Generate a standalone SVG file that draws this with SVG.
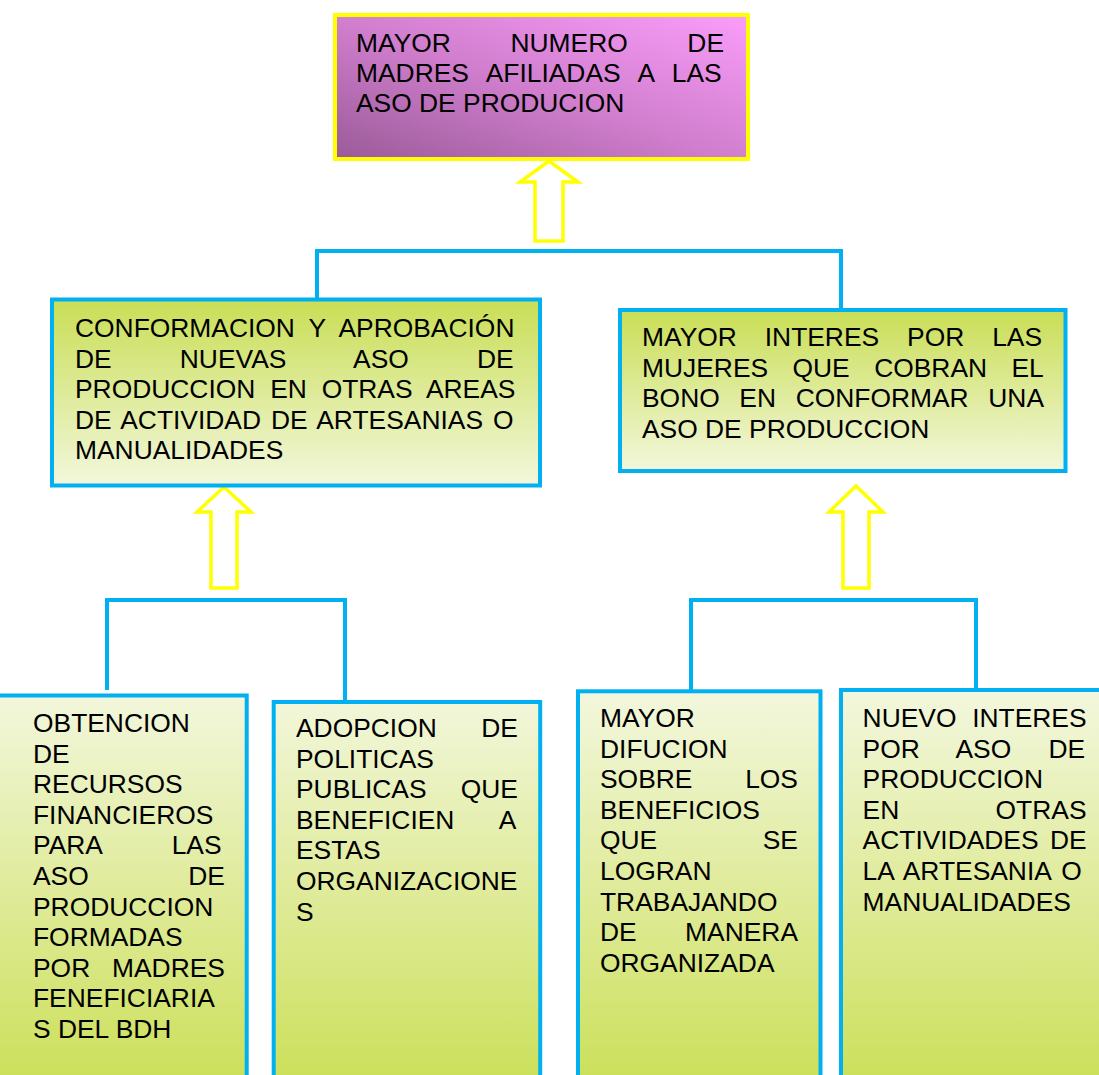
<svg xmlns="http://www.w3.org/2000/svg" width="1099" height="1075" viewBox="0 0 1099 1075">
<defs>
<linearGradient id="gTop" x1="0" y1="1" x2="1" y2="0">
<stop offset="0" stop-color="#9a5b98"/>
<stop offset="0.5" stop-color="#d27fcf"/>
<stop offset="1" stop-color="#fa9dfa"/>
</linearGradient>
<linearGradient id="gMid" x1="0" y1="0" x2="0" y2="1">
<stop offset="0" stop-color="#c9de55"/>
<stop offset="1" stop-color="#f3f7dc"/>
</linearGradient>
<linearGradient id="gLow" gradientUnits="userSpaceOnUse" x1="0" y1="690" x2="0" y2="1075">
<stop offset="0" stop-color="#f3f7de"/>
<stop offset="1" stop-color="#cde05c"/>
</linearGradient>
</defs>
<style>
.t{font-family:"Liberation Sans",Arial,sans-serif;font-size:26.4px;fill:#000}
.bx{stroke:#00b0f0;stroke-width:4}
.mid{fill:url(#gMid)}
.low{fill:url(#gLow)}
.ln{fill:none;stroke:#00b0f0;stroke-width:4}
.ar{fill:#fff;stroke:#ffff00;stroke-width:3.5;stroke-linejoin:miter}
</style>
<rect x="0" y="0" width="1099" height="1075" fill="#fff"/>

<g id="connectors">
<path class="ln" d="M317,301 V251 H841 V311"/>
<path class="ln" d="M107,690 V600 H345 V702"/>
<path class="ln" d="M691,691 V600 H976 V690"/>
<path class="ar" d="M549,161 L578,182 L563,182 L563,241 L535,241 L535,182 L520,182 Z"/>
<path class="ar" d="M224,487 L251,512 L237,512 L237,588 L211,588 L211,512 L197,512 Z"/>
<path class="ar" d="M856,486 L883,512 L869,512 L869,588 L843,588 L843,512 L829,512 Z"/>
</g>

<g id="node-top">
<rect x="335" y="15" width="413" height="144" fill="url(#gTop)" stroke="#ffff00" stroke-width="4"/>
<text class="t" x="356" y="52" word-spacing="52.3">MAYOR NUMERO DE</text>
<text class="t" x="356" y="82" word-spacing="10.9">MADRES AFILIADAS A LAS</text>
<text class="t" x="356" y="112">ASO DE PRODUCION</text>
</g>

<g id="node-mid-left">
<rect class="bx mid" x="52" y="299.5" width="488" height="186"/>
<text class="t" x="75" y="337" word-spacing="6.85">CONFORMACION Y APROBACIÓN</text>
<text class="t" x="75" y="367.5" word-spacing="60.8">DE NUEVAS ASO DE</text>
<text class="t" x="75" y="398" word-spacing="7.5">PRODUCCION EN OTRAS AREAS</text>
<text class="t" x="75" y="428.5" word-spacing="2.7">DE ACTIVIDAD DE ARTESANIAS O</text>
<text class="t" x="75" y="459">MANUALIDADES</text>
</g>

<g id="node-mid-right">
<rect class="bx mid" x="620" y="310" width="445.5" height="161"/>
<text class="t" x="642" y="346" word-spacing="20.6">MAYOR INTERES POR LAS</text>
<text class="t" x="642" y="376.5" word-spacing="17.1">MUJERES QUE COBRAN EL</text>
<text class="t" x="642" y="407" word-spacing="12.3">BONO EN CONFORMAR UNA</text>
<text class="t" x="642" y="437.5">ASO DE PRODUCCION</text>
</g>

<g id="node-a">
<rect class="bx low" x="-10" y="695.5" width="256.7" height="400"/>
<text class="t" x="33" y="732">OBTENCION</text>
<text class="t" x="33" y="762.6">DE</text>
<text class="t" x="33" y="793.2">RECURSOS</text>
<text class="t" x="33" y="823.8">FINANCIEROS</text>
<text class="t" x="33" y="854.4" word-spacing="62.9">PARA LAS</text>
<text class="t" x="33" y="885" word-spacing="92.2">ASO DE</text>
<text class="t" x="33" y="915.6">PRODUCCION</text>
<text class="t" x="33" y="946.2">FORMADAS</text>
<text class="t" x="33" y="976.8" word-spacing="14.5">POR MADRES</text>
<text class="t" x="33" y="1007.4">FENEFICIARIA</text>
<text class="t" x="33" y="1038">S DEL BDH</text>
</g>

<g id="node-b">
<rect class="bx low" x="273.7" y="702" width="266.5" height="400"/>
<text class="t" x="296" y="737" word-spacing="37.2">ADOPCION DE</text>
<text class="t" x="296" y="767.6">POLITICAS</text>
<text class="t" x="296" y="798.2" word-spacing="26.9">PUBLICAS QUE</text>
<text class="t" x="296" y="828.8" word-spacing="38.6">BENEFICIEN A</text>
<text class="t" x="296" y="859.4">ESTAS</text>
<text class="t" x="296" y="890">ORGANIZACIONE</text>
<text class="t" x="296" y="920.6">S</text>
</g>

<g id="node-c">
<rect class="bx low" x="578" y="691.3" width="242.5" height="400"/>
<text class="t" x="600" y="727">MAYOR</text>
<text class="t" x="600" y="757.6">DIFUCION</text>
<text class="t" x="600" y="788.2" word-spacing="45.4">SOBRE LOS</text>
<text class="t" x="600" y="818.8">BENEFICIOS</text>
<text class="t" x="600" y="849.4" word-spacing="98.2">QUE SE</text>
<text class="t" x="600" y="880">LOGRAN</text>
<text class="t" x="600" y="910.6">TRABAJANDO</text>
<text class="t" x="600" y="941.2" word-spacing="41.1">DE MANERA</text>
<text class="t" x="600" y="971.8">ORGANIZADA</text>
</g>

<g id="node-d">
<rect class="bx low" x="841" y="690" width="280" height="400"/>
<text class="t" x="862.6" y="727" word-spacing="8.4">NUEVO INTERES</text>
<text class="t" x="862.6" y="757.6" word-spacing="29.85">POR ASO DE</text>
<text class="t" x="862.6" y="788.2">PRODUCCION</text>
<text class="t" x="862.6" y="818.8" word-spacing="89">EN OTRAS</text>
<text class="t" x="862.6" y="849.4" word-spacing="4">ACTIVIDADES DE</text>
<text class="t" x="862.6" y="880" word-spacing="3.45">LA ARTESANIA O</text>
<text class="t" x="862.6" y="910.6">MANUALIDADES</text>
</g>
</svg>
